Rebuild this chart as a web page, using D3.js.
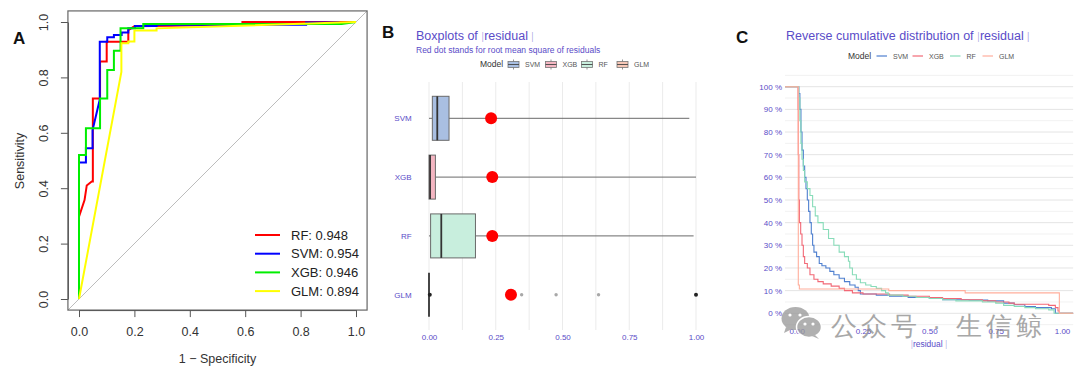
<!DOCTYPE html>
<html lang="en">
<head>
    <meta charset="UTF-8">
    <title>ROC, residual boxplots and reverse cumulative distribution</title>
    <script src="https://d3js.org/d3.v7.min.js"></script>
    <style>
        body {
            margin: 0;
            background: #ffffff;
            font-family: "Liberation Sans", Arial, sans-serif;
        }
        svg text {
            font-family: "Liberation Sans", Arial, sans-serif;
        }
    </style>
</head>
<body>
    <div id="chart"></div>

    <script>
        // ---- panel A: ROC curves ----
        let rocModels = ["RF", "SVM", "XGB", "GLM"];
        let rocAuc = [0.948, 0.954, 0.946, 0.894];
        let rocTicks = [0, 0.2, 0.4, 0.6, 0.8, 1.0];

        let rocRF = [[0, 0], [0, 0.297], [0.02, 0.357], [0.028, 0.41], [0.046, 0.424], [0.05, 0.424], [0.05, 0.724],
            [0.076, 0.724], [0.076, 0.857], [0.10, 0.857], [0.10, 0.929], [0.178, 0.929], [0.178, 0.971],
            [0.20, 0.985], [0.59, 0.99], [0.59, 1.0], [1, 1]];
        let rocSVM = [[0, 0], [0, 0.493], [0.025, 0.493], [0.025, 0.544], [0.049, 0.544], [0.049, 0.61], [0.075, 0.72],
            [0.075, 0.929], [0.102, 0.929], [0.102, 0.945], [0.126, 0.945], [0.126, 0.953], [0.154, 0.953],
            [0.154, 0.962], [0.178, 0.962], [0.178, 0.977], [0.202, 0.977], [0.202, 0.986], [0.28, 0.986],
            [0.28, 0.99], [0.82, 0.99], [0.82, 0.998], [0.94, 0.998]];
        let rocXGB = [[0, 0], [0, 0.52], [0.025, 0.52], [0.025, 0.616], [0.076, 0.616], [0.076, 0.724], [0.102, 0.724],
            [0.102, 0.827], [0.126, 0.827], [0.126, 0.896], [0.15, 0.896], [0.15, 0.977], [0.232, 0.977],
            [0.232, 0.993], [0.948, 0.993], [1, 1]];
        let rocGLM = [[0, 0], [0.153, 0.82], [0.153, 0.923], [0.178, 0.923], [0.178, 0.93], [0.2, 0.93], [0.2, 0.969],
            [0.28, 0.969], [0.28, 0.977], [1, 1]];

        // ---- panel B: boxplots of residual ----
        let boxModels = ["SVM", "XGB", "RF", "GLM"];
        let boxLow = [0.0, 0.0, 0.0, 0.0];
        let boxQ1 = [0.0125, 0.0, 0.006, 0.0];
        let boxMedian = [0.031, 0.004, 0.046, 0.0];
        let boxQ3 = [0.075, 0.024, 0.174, 0.0];
        let boxHigh = [0.975, 1.0, 0.991, 0.0];
        let boxRmse = [0.2325, 0.237, 0.237, 0.307];
        let glmOutliers = [0.003, 0.347, 0.476, 0.635, 1.0];
        let boxTicks = [0, 0.25, 0.5, 0.75, 1.0];

        // ---- panel C: reverse cumulative distribution (residual, share above) ----
        let rcdSVM = [[0.008, 0.97], [0.012, 0.9], [0.016, 0.8], [0.02, 0.72], [0.025, 0.65], [0.03, 0.6], [0.035, 0.55],
            [0.04, 0.5], [0.045, 0.45], [0.05, 0.4], [0.055, 0.35], [0.06, 0.3], [0.065, 0.27], [0.075, 0.25],
            [0.085, 0.22], [0.095, 0.21], [0.11, 0.2], [0.125, 0.185], [0.14, 0.17], [0.16, 0.155], [0.18, 0.14],
            [0.2, 0.125], [0.22, 0.115], [0.232, 0.1], [0.24, 0.085], [0.3, 0.08], [0.35, 0.075], [0.42, 0.07],
            [0.5, 0.065], [0.55, 0.06], [0.65, 0.058], [0.72, 0.055], [0.78, 0.045], [0.82, 0.038], [0.86, 0.03],
            [0.9, 0.025], [0.96, 0.02], [0.975, 0]];
        let rcdXGB = [[0.005, 0.9], [0.006, 0.7], [0.008, 0.5], [0.01, 0.4], [0.015, 0.35], [0.02, 0.3], [0.025, 0.25],
            [0.03, 0.22], [0.04, 0.2], [0.05, 0.17], [0.065, 0.15], [0.08, 0.14], [0.1, 0.13], [0.13, 0.12],
            [0.16, 0.11], [0.18, 0.1], [0.21, 0.09], [0.25, 0.085], [0.35, 0.08], [0.42, 0.075], [0.5, 0.07],
            [0.55, 0.065], [0.62, 0.06], [0.7, 0.055], [0.75, 0.05], [0.8, 0.045], [0.82, 0.04], [0.95, 0.035],
            [0.975, 0.025], [0.985, 0.01], [0.99, 0]];
        let rcdRF = [[0.008, 0.95], [0.012, 0.85], [0.016, 0.75], [0.02, 0.68], [0.025, 0.63], [0.03, 0.58],
            [0.04, 0.55], [0.05, 0.52], [0.06, 0.47], [0.07, 0.43], [0.08, 0.4], [0.1, 0.37], [0.12, 0.33],
            [0.14, 0.3], [0.16, 0.27], [0.18, 0.25], [0.195, 0.23], [0.2, 0.2], [0.21, 0.17], [0.225, 0.15],
            [0.24, 0.135], [0.26, 0.125], [0.28, 0.118], [0.3, 0.11], [0.32, 0.1], [0.335, 0.09], [0.345, 0.08],
            [0.4, 0.075], [0.45, 0.07], [0.5, 0.065], [0.55, 0.06], [0.6, 0.055], [0.7, 0.05], [0.75, 0.045],
            [0.78, 0.035], [0.82, 0.03], [0.86, 0.025], [0.9, 0.02], [0.95, 0.015], [0.97, 0]];
        let rcdGLM = [[0.006, 0.125], [0.01, 0.107], [0.347, 0.1], [0.635, 0.09], [0.99, 0]];
        let rcdModels = ["SVM", "XGB", "RF", "GLM"];
        let rcdTicks = [0, 0.1, 0.2, 0.3, 0.4, 0.5, 0.6, 0.7, 0.8, 0.9, 1.0];

        let rocColor = { RF: "#ff0000", SVM: "#0000ff", XGB: "#00ee00", GLM: "#ffff00" };
        let boxFill = { SVM: "#a9bfe2", XGB: "#f4b6c2", RF: "#c8eedd", GLM: "#f6c7b6" };
        let lineColor = { SVM: "#4e7fcf", XGB: "#f26876", RF: "#88dcb9", GLM: "#ffae9c" };
        let purple = "#5a4cc8";

        let svg = d3.select("#chart").append("svg")
            .attr("width", 1080)
            .attr("height", 367);

        svg.append("rect").attr("width", 1080).attr("height", 367).attr("fill", "#ffffff");

        // ================= A =================
        let xA = d3.scaleLinear().domain([0, 1]).range([79, 356]);
        let yA = d3.scaleLinear().domain([0, 1]).range([299, 22]);
        let boxA = { x0: xA(-0.04), x1: xA(1.04), y0: yA(1.04), y1: yA(-0.04) };

        let gA = svg.append("g");

        gA.append("line")
            .attr("x1", boxA.x0).attr("y1", boxA.y1)
            .attr("x2", boxA.x1).attr("y2", boxA.y0)
            .attr("stroke", "#bdbdbd").attr("stroke-width", 1);

        let rocLine = d3.line().x(d => xA(d[0])).y(d => yA(d[1]));
        [rocRF, rocSVM, rocXGB, rocGLM].forEach((pts, i) => {
            gA.append("path")
                .datum(pts)
                .attr("d", rocLine)
                .attr("fill", "none")
                .attr("stroke", rocColor[rocModels[i]])
                .attr("stroke-width", 2);
        });

        gA.append("rect")
            .attr("x", boxA.x0).attr("y", boxA.y0)
            .attr("width", boxA.x1 - boxA.x0).attr("height", boxA.y1 - boxA.y0)
            .attr("fill", "none").attr("stroke", "#666").attr("stroke-width", 1.2);

        let axA = gA.append("g")
            .attr("transform", "translate(0," + boxA.y1 + ")")
            .call(d3.axisBottom(xA).tickValues(rocTicks).tickFormat(d3.format(".1f")).tickSize(7).tickSizeOuter(0).tickPadding(10));
        axA.selectAll("path, line").attr("stroke", "#555");
        axA.selectAll("text").attr("font-size", 12.5).attr("fill", "#333");

        let ayA = gA.append("g")
            .attr("transform", "translate(" + boxA.x0 + ",0)")
            .call(d3.axisLeft(yA).tickValues(rocTicks).tickFormat(d3.format(".1f")).tickSize(7).tickSizeOuter(0));
        ayA.selectAll("path, line").attr("stroke", "#555");
        ayA.selectAll("text")
            .attr("font-size", 12.5).attr("fill", "#333")
            .attr("x", 0).attr("dy", 0)
            .attr("text-anchor", "middle")
            .attr("transform", "translate(-20,0) rotate(-90)");

        gA.append("text")
            .attr("x", (xA(0) + xA(1)) / 2).attr("y", 363)
            .attr("text-anchor", "middle").attr("font-size", 12.5).attr("fill", "#333")
            .text("1 \u2212 Specificity");

        gA.append("text")
            .attr("transform", "translate(24,161) rotate(-90)")
            .attr("text-anchor", "middle").attr("font-size", 12.5).attr("fill", "#333")
            .text("Sensitivity");

        rocModels.forEach((m, i) => {
            let yy = 235 + i * 18.7;
            gA.append("line")
                .attr("x1", 255).attr("x2", 280).attr("y1", yy).attr("y2", yy)
                .attr("stroke", rocColor[m]).attr("stroke-width", 2);
            gA.append("text")
                .attr("x", 291).attr("y", yy + 4.5)
                .attr("font-size", 13).attr("fill", "#222")
                .text(m + ": " + rocAuc[i].toFixed(3));
        });

        svg.append("text").attr("x", 13).attr("y", 44)
            .attr("font-size", 17).attr("font-weight", "bold").attr("fill", "#111").text("A");

        // ================= B =================
        let xB = d3.scaleLinear().domain([0, 1]).range([429, 696]);
        let yB = d3.scalePoint().domain(boxModels).range([118.3, 294.7]);
        let panelB = { x0: xB(-0.05), x1: xB(1.05), y0: 82, y1: 330 };
        let halfBox = 22;

        let gB = svg.append("g");

        d3.range(0, 1.0001, 0.125).forEach(v => {
            gB.append("line")
                .attr("x1", xB(v)).attr("x2", xB(v))
                .attr("y1", panelB.y0).attr("y2", panelB.y1)
                .attr("stroke", "#ebebeb").attr("stroke-width", 1);
        });

        boxModels.forEach((m, i) => {
            let cy = yB(m);
            gB.append("line")
                .attr("x1", xB(boxLow[i])).attr("x2", xB(boxQ1[i]))
                .attr("y1", cy).attr("y2", cy)
                .attr("stroke", "#6a6a6a").attr("stroke-width", 1);
            gB.append("line")
                .attr("x1", xB(boxQ3[i])).attr("x2", xB(boxHigh[i]))
                .attr("y1", cy).attr("y2", cy)
                .attr("stroke", "#6a6a6a").attr("stroke-width", 1);
            gB.append("rect")
                .attr("x", xB(boxQ1[i])).attr("y", cy - halfBox)
                .attr("width", Math.max(0, xB(boxQ3[i]) - xB(boxQ1[i])))
                .attr("height", halfBox * 2)
                .attr("fill", boxFill[m])
                .attr("stroke", "#6a6a6a").attr("stroke-width", 1);
            gB.append("line")
                .attr("x1", xB(boxMedian[i])).attr("x2", xB(boxMedian[i]))
                .attr("y1", cy - halfBox).attr("y2", cy + halfBox)
                .attr("stroke", "#333").attr("stroke-width", 1.8);
        });

        glmOutliers.forEach((v, i) => {
            let dark = (i === 0 || i === glmOutliers.length - 1);
            gB.append("circle")
                .attr("cx", xB(v)).attr("cy", yB("GLM"))
                .attr("r", dark ? 2 : 1.7)
                .attr("fill", dark ? "#222" : "#a8a8a8");
        });

        boxModels.forEach((m, i) => {
            gB.append("circle")
                .attr("cx", xB(boxRmse[i])).attr("cy", yB(m))
                .attr("r", 6).attr("fill", "#ff0000");
        });

        let axB = gB.append("g")
            .attr("transform", "translate(0," + panelB.y1 + ")")
            .call(d3.axisBottom(xB).tickValues(boxTicks).tickFormat(d3.format(".2f")).tickSize(0).tickPadding(4));
        axB.select(".domain").remove();
        axB.selectAll("text").attr("font-size", 8).attr("fill", purple);

        let ayB = gB.append("g")
            .attr("transform", "translate(" + panelB.x0 + ",0)")
            .call(d3.axisLeft(yB).tickSize(0).tickPadding(4));
        ayB.select(".domain").remove();
        ayB.selectAll("text").attr("font-size", 8).attr("fill", purple);

        let titleB = gB.append("text").attr("x", 416).attr("y", 39.5).attr("font-size", 12.5).attr("fill", purple);
        titleB.append("tspan").text("Boxplots of  ");
        titleB.append("tspan").attr("fill-opacity", 0.45).attr("font-size", 11).text("|");
        titleB.append("tspan").text("residual");
        titleB.append("tspan").attr("fill-opacity", 0.45).attr("font-size", 11).text(" |");

        gB.append("text").attr("x", 416).attr("y", 52.5)
            .attr("font-size", 8.5).attr("fill", purple)
            .text("Red dot stands for root mean square of residuals");

        gB.append("text").attr("x", 480).attr("y", 67)
            .attr("font-size", 8.5).attr("fill", "#333").text("Model");

        let keyB = [508, 545.5, 581.5, 617];
        boxModels.forEach((m, i) => {
            let kx = keyB[i];
            let kg = gB.append("g");
            kg.append("line").attr("x1", kx + 5.5).attr("x2", kx + 5.5).attr("y1", 59.5).attr("y2", 69.5)
                .attr("stroke", "#777").attr("stroke-width", 0.8);
            kg.append("rect").attr("x", kx).attr("y", 61.5).attr("width", 11).attr("height", 6)
                .attr("fill", boxFill[m]).attr("stroke", "#777").attr("stroke-width", 0.8);
            kg.append("line").attr("x1", kx).attr("x2", kx + 11).attr("y1", 64.5).attr("y2", 64.5)
                .attr("stroke", "#444").attr("stroke-width", 0.9);
            kg.append("text").attr("x", kx + 17).attr("y", 67)
                .attr("font-size", 7).attr("fill", "#555").text(m);
        });

        svg.append("text").attr("x", 382).attr("y", 38)
            .attr("font-size", 17).attr("font-weight", "bold").attr("fill", "#111").text("B");

        // ================= C =================
        let xC = d3.scaleLinear().domain([0, 1]).range([796.7, 1062]);
        let yC = d3.scaleLinear().domain([0, 1]).range([313.3, 86.7]);
        let panelC = { x0: xC(-0.044), x1: xC(1.042), y0: yC(1.05), y1: yC(-0.05) };

        let gC = svg.append("g");

        d3.range(-0.05, 1.0501, 0.05).forEach(v => {
            let major = Math.abs(Math.round(v * 20)) % 2 === 0;
            gC.append("line")
                .attr("x1", panelC.x0).attr("x2", panelC.x1)
                .attr("y1", yC(v)).attr("y2", yC(v))
                .attr("stroke", major ? "#e4e4e4" : "#ededed")
                .attr("stroke-width", major ? 1 : 0.8);
        });

        let stepLine = d3.line().x(d => xC(d[0])).y(d => yC(d[1])).curve(d3.curveStepAfter);
        let leftEdge = xC.invert(panelC.x0);
        let rightEdge = xC.invert(panelC.x1);
        [rcdSVM, rcdXGB, rcdRF, rcdGLM].forEach((pts, i) => {
            let full = [[leftEdge, 1]].concat(pts).concat([[rightEdge, 0]]);
            gC.append("path")
                .datum(full)
                .attr("d", stepLine)
                .attr("fill", "none")
                .attr("stroke", lineColor[rcdModels[i]])
                .attr("stroke-width", 1.1);
        });

        let ayC = gC.append("g")
            .attr("transform", "translate(" + panelC.x0 + ",0)")
            .call(d3.axisLeft(yC).tickValues(rcdTicks).tickFormat(d => Math.round(d * 100) + " %").tickSize(0).tickPadding(3));
        ayC.select(".domain").remove();
        ayC.selectAll("text").attr("font-size", 8).attr("fill", purple);

        let axC = gC.append("g")
            .attr("transform", "translate(0," + panelC.y1 + ")")
            .call(d3.axisBottom(xC).tickValues(boxTicks).tickFormat(d3.format(".2f")).tickSize(0).tickPadding(4));
        axC.select(".domain").remove();
        axC.selectAll("text").attr("font-size", 8).attr("fill", purple);

        let xTitleC = gC.append("text").attr("x", 929).attr("y", 347)
            .attr("text-anchor", "middle").attr("font-size", 8.5).attr("fill", purple);
        xTitleC.append("tspan").attr("fill-opacity", 0.45).text("|");
        xTitleC.append("tspan").text("residual");
        xTitleC.append("tspan").attr("fill-opacity", 0.45).text(" |");

        let titleC = gC.append("text").attr("x", 786).attr("y", 39.5).attr("font-size", 12.5).attr("fill", purple);
        titleC.append("tspan").text("Reverse cumulative distribution of  ");
        titleC.append("tspan").attr("fill-opacity", 0.45).attr("font-size", 11).text("|");
        titleC.append("tspan").text("residual");
        titleC.append("tspan").attr("fill-opacity", 0.45).attr("font-size", 11).text(" |");

        gC.append("text").attr("x", 848).attr("y", 59)
            .attr("font-size", 8.5).attr("fill", "#333").text("Model");

        let keyC = [876.5, 912.5, 950, 982.5];
        rcdModels.forEach((m, i) => {
            let kx = keyC[i];
            gC.append("line").attr("x1", kx).attr("x2", kx + 10.5).attr("y1", 56).attr("y2", 56)
                .attr("stroke", lineColor[m]).attr("stroke-width", 1.2);
            gC.append("text").attr("x", kx + 16.5).attr("y", 58.5)
                .attr("font-size", 7).attr("fill", "#555").text(m);
        });

        svg.append("text").attr("x", 736).attr("y", 43)
            .attr("font-size", 17).attr("font-weight", "bold").attr("fill", "#111").text("C");

        // watermark
        let wm = svg.append("g").attr("opacity", 0.78);
        wm.append("ellipse").attr("cx", 795.5).attr("cy", 318.5).attr("rx", 14).attr("ry", 11.5).attr("fill", "#9a9a9a");
        wm.append("path").attr("d", "M786,327 L784,333 L792,329 Z").attr("fill", "#9a9a9a");
        wm.append("ellipse").attr("cx", 809).attr("cy", 327).attr("rx", 12.5).attr("ry", 10.5)
            .attr("fill", "#9a9a9a").attr("stroke", "#ffffff").attr("stroke-width", 1.5);
        wm.append("path").attr("d", "M815,335 L819,339 L812,336 Z").attr("fill", "#9a9a9a");
        [[790, 315], [800, 315], [805, 324], [813, 324]].forEach(p => {
            wm.append("circle").attr("cx", p[0]).attr("cy", p[1]).attr("r", 1.6).attr("fill", "#ffffff");
        });
        wm.append("text").attr("x", 831).attr("y", 335)
            .attr("font-family", "'Noto Sans CJK SC', sans-serif")
            .attr("font-size", 26).attr("letter-spacing", 4).attr("fill", "#8f8f8f")
            .text("公众号 · 生信鲸");
    </script>
</body>
</html>
